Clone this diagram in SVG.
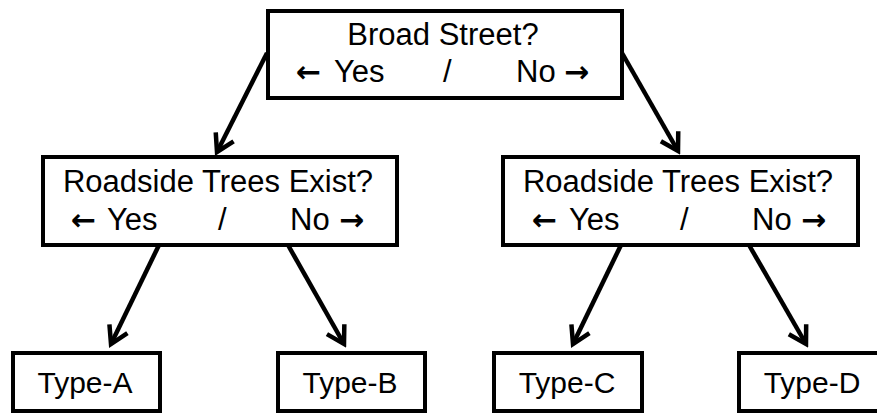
<svg xmlns="http://www.w3.org/2000/svg" width="877" height="414" viewBox="0 0 877 414">
<style>
  .box { fill: #ffffff; stroke: #000000; stroke-width: 4; }
  .t { font-family: "Liberation Sans", Arial, sans-serif; font-size: 30px; fill: #000000; }
  .q { font-size: 31px; }
  .ar { font-family: "DejaVu Sans", sans-serif; font-size: 30px; font-weight: bold; }
  .c { text-anchor: middle; }
  .conn { stroke: #000000; stroke-width: 4.5; fill: none; marker-end: url(#ah); }
</style>
<defs>
  <marker id="ah" markerUnits="userSpaceOnUse" viewBox="-22 -14 26 28" refX="0" refY="0" markerWidth="26" markerHeight="28" orient="auto">
    <path d="M -17 -10 L 0 0 L -17 10" fill="none" stroke="#000000" stroke-width="4.5" stroke-linejoin="miter" stroke-linecap="butt"/>
  </marker>
</defs>
<rect width="877" height="414" fill="#ffffff"/>
<g id="connectors">
  <line class="conn" x1="267" y1="53" x2="217" y2="152"/>
  <line class="conn" x1="622" y1="53" x2="678" y2="151"/>
  <line class="conn" x1="159" y1="245" x2="111" y2="344"/>
  <line class="conn" x1="288" y1="245" x2="344" y2="344"/>
  <line class="conn" x1="621" y1="245" x2="573" y2="344"/>
  <line class="conn" x1="749" y1="245" x2="806" y2="344"/>
</g>
<g id="root">
  <rect class="box" x="268" y="11" width="354" height="87"/>
  <text class="t q c" x="443" y="45">Broad Street?</text>
  <text class="t q" y="82"><tspan class="ar" x="296">←</tspan><tspan x="334">Yes</tspan><tspan x="443">/</tspan><tspan x="516">No</tspan><tspan class="ar" x="564">→</tspan></text>
</g>
<g id="left-q">
  <rect class="box" x="43" y="157" width="354" height="88"/>
  <text class="t q c" x="218" y="192">Roadside Trees Exist?</text>
  <text class="t q" y="230"><tspan class="ar" x="71">←</tspan><tspan x="107">Yes</tspan><tspan x="218">/</tspan><tspan x="290">No</tspan><tspan class="ar" x="339">→</tspan></text>
</g>
<g id="right-q">
  <rect class="box" x="503" y="157" width="355" height="88"/>
  <text class="t q c" x="678" y="192">Roadside Trees Exist?</text>
  <text class="t q" y="230"><tspan class="ar" x="532">←</tspan><tspan x="569">Yes</tspan><tspan x="680">/</tspan><tspan x="752">No</tspan><tspan class="ar" x="801">→</tspan></text>
</g>
<g id="type-a">
  <rect class="box" x="13" y="353" width="147" height="58"/>
  <text class="t c" x="85" y="393">Type-A</text>
</g>
<g id="type-b">
  <rect class="box" x="278" y="353" width="147" height="58"/>
  <text class="t c" x="350" y="393">Type-B</text>
</g>
<g id="type-c">
  <rect class="box" x="494" y="353" width="148" height="58"/>
  <text class="t c" x="567" y="393">Type-C</text>
</g>
<g id="type-d">
  <rect class="box" x="739" y="353" width="150" height="58"/>
  <text class="t c" x="812" y="393">Type-D</text>
</g>
</svg>
